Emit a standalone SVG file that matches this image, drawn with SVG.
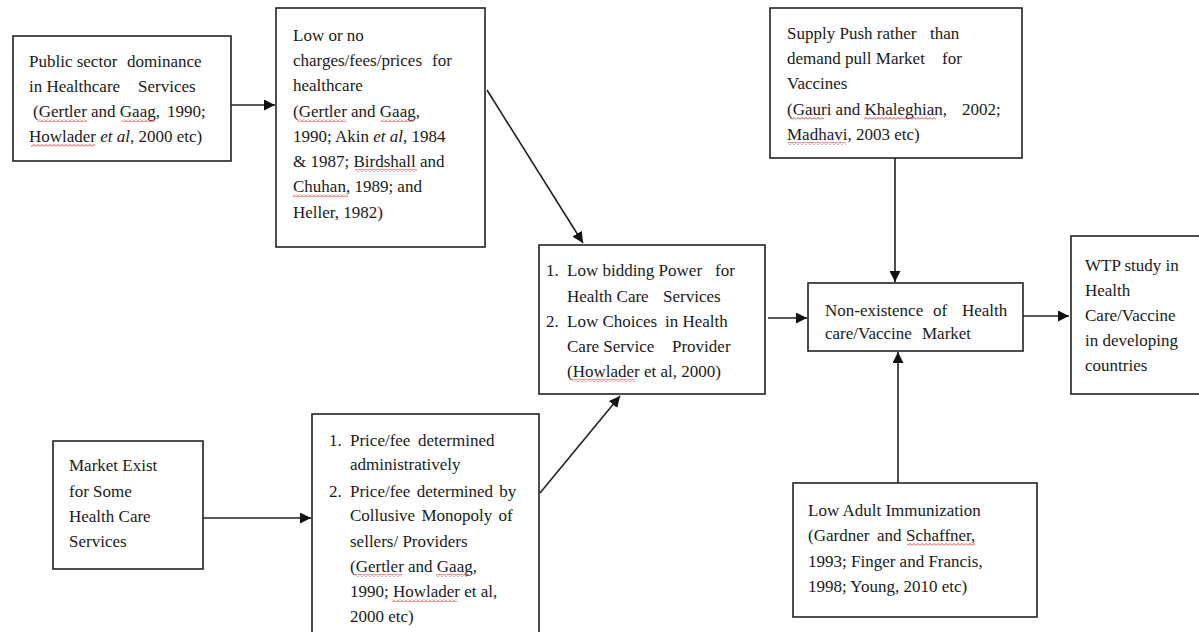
<svg xmlns="http://www.w3.org/2000/svg" width="1199" height="632" viewBox="0 0 1199 632">
<style>
.box{fill:#fff;stroke:#222;stroke-width:1.6}
.t{font-family:"Liberation Serif","Times New Roman",serif;font-size:17px;fill:#1a1a1a}
.c{stroke:#222;stroke-width:1.6;fill:none}
.w{fill:url(#wavy)}
</style>
<defs>
<marker id="ah" viewBox="0 0 10 10" refX="10" refY="5" markerWidth="11" markerHeight="11" markerUnits="userSpaceOnUse" orient="auto">
<path d="M0,0 L10,5 L0,10 z" fill="#111"/>
</marker>
<pattern id="wavy" width="4" height="3" patternUnits="userSpaceOnUse">
<path d="M0,2.5 L2,0.5 L4,2.5" stroke="#e0201b" stroke-width="0.9" fill="none"/>
</pattern>
</defs>
<rect width="1199" height="632" fill="#fff"/>

<g id="connectors">
<line class="c" x1="231" y1="105" x2="275" y2="105" marker-end="url(#ah)"/>
<line class="c" x1="487" y1="90" x2="583" y2="243" marker-end="url(#ah)"/>
<line class="c" x1="768" y1="318" x2="807" y2="318" marker-end="url(#ah)"/>
<line class="c" x1="1023" y1="316" x2="1069" y2="316" marker-end="url(#ah)"/>
<line class="c" x1="895" y1="158" x2="895" y2="282" marker-end="url(#ah)"/>
<line class="c" x1="898" y1="483" x2="898" y2="352" marker-end="url(#ah)"/>
<line class="c" x1="203" y1="518" x2="311" y2="518" marker-end="url(#ah)"/>
<line class="c" x1="540" y1="493" x2="620" y2="396" marker-end="url(#ah)"/>
</g>

<g id="public-sector">
<rect class="box" x="13" y="36" width="218" height="125"/>
<text class="t"><tspan x="29" y="67">Public sector</tspan><tspan x="127" y="67">dominance</tspan><tspan x="29" y="92">in Healthcare</tspan><tspan x="138" y="92">Services</tspan><tspan x="33" y="117">(Gertler and Gaag,</tspan><tspan x="167" y="117">1990;</tspan><tspan x="29" y="142">Howlader <tspan font-style="italic">et al</tspan>, 2000 etc)</tspan></text>
<rect class="w" x="38" y="119" width="49" height="3"/><rect class="w" x="122" y="119" width="33" height="3"/><rect class="w" x="31" y="144" width="64" height="3"/>
</g>

<g id="low-charges">
<rect class="box" x="276" y="8" width="209" height="239"/>
<text class="t"><tspan x="293" y="41">Low or no</tspan><tspan x="293" y="66">charges/fees/prices</tspan><tspan x="432" y="66">for</tspan><tspan x="293" y="91">healthcare</tspan><tspan x="293" y="117">(Gertler and Gaag,</tspan><tspan x="293" y="142">1990; Akin <tspan font-style="italic">et al</tspan>, 1984</tspan><tspan x="293" y="167">&amp; 1987; Birdshall and</tspan><tspan x="293" y="192">Chuhan, 1989; and</tspan><tspan x="293" y="218">Heller, 1982)</tspan></text>
<rect class="w" x="298" y="119" width="48" height="3"/><rect class="w" x="381" y="119" width="33" height="3"/><rect class="w" x="355" y="169" width="62" height="3"/><rect class="w" x="293" y="194" width="55" height="3"/>
</g>

<g id="supply-push">
<rect class="box" x="770" y="8" width="252" height="150"/>
<text class="t"><tspan x="787" y="39">Supply Push rather</tspan><tspan x="930" y="39">than</tspan><tspan x="787" y="64">demand pull Market</tspan><tspan x="942" y="64">for</tspan><tspan x="787" y="89">Vaccines</tspan><tspan x="787" y="115">(Gauri and Khaleghian,</tspan><tspan x="962" y="115">2002;</tspan><tspan x="787" y="140">Madhavi, 2003 etc)</tspan></text>
<rect class="w" x="790" y="117" width="34" height="3"/><rect class="w" x="864" y="117" width="72" height="3"/><rect class="w" x="788" y="142" width="58" height="3"/>
</g>

<g id="low-bidding">
<rect class="box" x="539" y="245" width="226" height="149"/>
<text class="t"><tspan x="546" y="276">1.</tspan><tspan x="567" y="276">Low bidding Power</tspan><tspan x="715" y="276">for</tspan><tspan x="567" y="302">Health Care</tspan><tspan x="663" y="302">Services</tspan><tspan x="546" y="327">2.</tspan><tspan x="567" y="327">Low Choices</tspan><tspan x="665" y="327">in Health</tspan><tspan x="567" y="352">Care Service</tspan><tspan x="672" y="352">Provider</tspan><tspan x="567" y="377">(Howlader et al, 2000)</tspan></text>
<rect class="w" x="572" y="379" width="63" height="3"/>
</g>

<g id="non-existence">
<rect class="box" x="808" y="283" width="215" height="68"/>
<text class="t"><tspan x="825" y="316">Non-existence</tspan><tspan x="933" y="316">of</tspan><tspan x="962" y="316">Health</tspan><tspan x="825" y="339">care/Vaccine</tspan><tspan x="922" y="339">Market</tspan></text>
</g>

<g id="wtp-study">
<rect class="box" x="1071" y="236" width="140" height="158"/>
<text class="t"><tspan x="1085" y="271">WTP study in</tspan><tspan x="1085" y="296">Health</tspan><tspan x="1085" y="321">Care/Vaccine</tspan><tspan x="1085" y="346">in developing</tspan><tspan x="1085" y="371">countries</tspan></text>
</g>

<g id="market-exist">
<rect class="box" x="53" y="441" width="150" height="128"/>
<text class="t"><tspan x="69" y="471">Market Exist</tspan><tspan x="69" y="497">for Some</tspan><tspan x="69" y="522">Health Care</tspan><tspan x="69" y="547">Services</tspan></text>
</g>

<g id="price-fee">
<rect class="box" x="312" y="414" width="227" height="240"/>
<text class="t"><tspan x="329" y="446">1.</tspan><tspan x="350" y="446">Price/fee</tspan><tspan x="418" y="446">determined</tspan><tspan x="350" y="470">administratively</tspan><tspan x="329" y="497">2.</tspan><tspan x="350" y="497" word-spacing="2">Price/fee determined by</tspan><tspan x="350" y="521" word-spacing="2">Collusive Monopoly of</tspan><tspan x="350" y="547">sellers/ Providers</tspan><tspan x="350" y="572">(Gertler and Gaag,</tspan><tspan x="350" y="597">1990; Howlader et al,</tspan><tspan x="350" y="622">2000 etc)</tspan></text>
<rect class="w" x="355" y="574" width="47" height="3"/><rect class="w" x="436" y="574" width="33" height="3"/><rect class="w" x="392" y="599" width="65" height="3"/>
</g>

<g id="low-adult">
<rect class="box" x="793" y="483" width="244" height="134"/>
<text class="t"><tspan x="808" y="516">Low Adult Immunization</tspan><tspan x="808" y="541">(Gardner</tspan><tspan x="877" y="541">and</tspan><tspan x="906" y="541">Schaffner,</tspan><tspan x="808" y="567">1993; Finger and Francis,</tspan><tspan x="808" y="592">1998; Young, 2010 etc)</tspan></text>
<rect class="w" x="907" y="543" width="68" height="3"/>
</g>
</svg>
